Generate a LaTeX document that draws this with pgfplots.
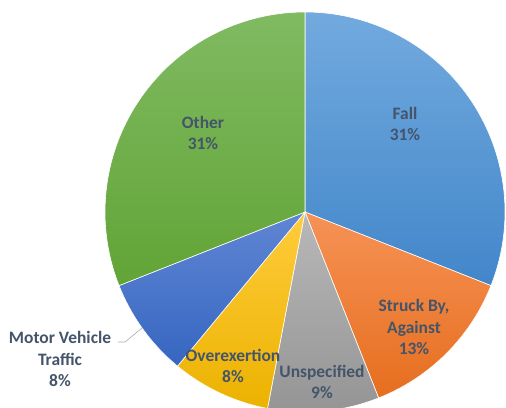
\documentclass[border=0pt]{standalone}
\usepackage{pgfplots}
\pgfplotsset{compat=1.18}
\usepackage{pgfplotstable}
\usepackage{fontspec}
\setmainfont{Carlito}
\definecolor{lab}{RGB}{68,84,106}
\definecolor{t0}{RGB}{114,170,222}\definecolor{b0}{RGB}{66,134,202}
\definecolor{t1}{RGB}{246,146,86}\definecolor{b1}{RGB}{230,110,30}
\definecolor{t2}{RGB}{184,184,184}\definecolor{b2}{RGB}{148,148,148}
\definecolor{t3}{RGB}{255,204,60}\definecolor{b3}{RGB}{236,178,0}
\definecolor{t4}{RGB}{96,134,212}\definecolor{b4}{RGB}{54,102,192}
\definecolor{t5}{RGB}{128,186,98}\definecolor{b5}{RGB}{98,164,54}
\pgfplotstableread{
name value top bot
Fall 31 t0 b0
Struck 13 t1 b1
Unspecified 9 t2 b2
Overexertion 8 t3 b3
Motor 8 t4 b4
Other 31 t5 b5
}\piedata
\tikzset{lbl/.style={font=\bfseries\fontsize{17.5}{21.5}\selectfont, text=lab, align=center}}
\begin{document}
\begin{tikzpicture}
\begin{axis}[x=1bp,y=1bp,xmin=0,xmax=506,ymin=0,ymax=407,hide axis,scale only axis,clip=true]
\pgfmathsetmacro\cum{0}
\pgfplotsforeachungrouped \i in {0,...,5}{%
  \pgfplotstablegetelem{\i}{value}\of\piedata \let\v\pgfplotsretval
  \pgfplotstablegetelem{\i}{top}\of\piedata \let\tc\pgfplotsretval
  \pgfplotstablegetelem{\i}{bot}\of\piedata \let\bc\pgfplotsretval
  \pgfmathsetmacro\sa{90-3.6*\cum}%
  \pgfmathsetmacro\ea{90-3.6*(\cum+\v)}%
  \pgfmathsetmacro\cum{\cum+\v}%
  \edef\temp{\noexpand\path[draw=white, line width=0.6bp, top color=\tc, bottom color=\bc] (axis cs:305,195) -- ++(\sa:200bp) arc[start angle=\sa, end angle=\ea, radius=200bp] -- cycle;}%
  \temp
}
\draw[color={rgb,255:red,170;green,170;blue,170}, line width=0.6bp] (axis cs:118,65) -- (axis cs:125,65) -- (axis cs:142,79);
\node[lbl] at (axis cs:405,283) {Fall\\31\%};
\node[lbl] at (axis cs:203,274) {Other\\31\%};
\node[lbl] at (axis cs:414,80) {Struck By,\\Against\\13\%};
\node[lbl] at (axis cs:322,25) {Unspecified\\9\%};
\node[lbl] at (axis cs:233,41) {Overexertion\\8\%};
\node[lbl] at (axis cs:60,48) {Motor Vehicle\\Traffic\\8\%};
\end{axis}
\pgfresetboundingbox
\useasboundingbox (current axis.south west) rectangle (current axis.north east);
\end{tikzpicture}
\end{document}
